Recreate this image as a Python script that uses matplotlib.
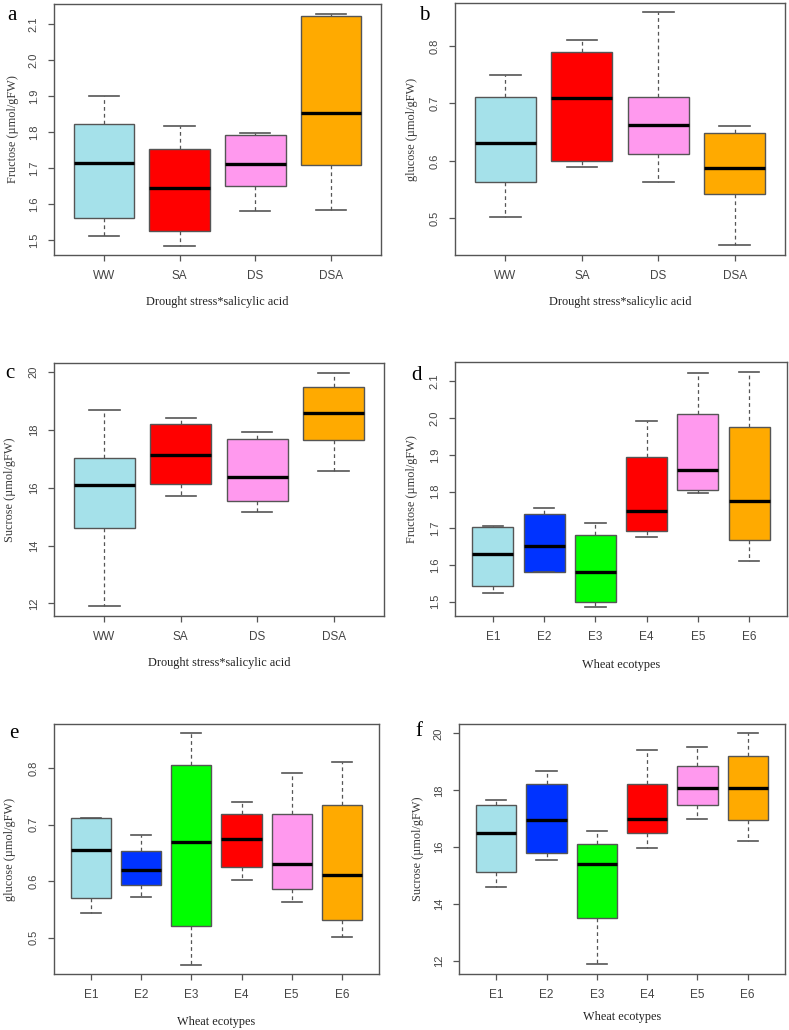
import matplotlib.pyplot as plt
import numpy as np

# treatment groups (panels a-c) and ecotypes (panels d-f)
treatments = ["WW", "SA", "DS", "DSA"]
ecotypes = ["E1", "E2", "E3", "E4", "E5", "E6"]

treat_colors = ["#A5E1EA", "#FF0000", "#FF99EE", "#FFAA00"]
eco_colors = ["#A5E1EA", "#0033FF", "#00FF00", "#FF0000", "#FF99EE", "#FFAA00"]

# box stats: [whislo, q1, med, q3, whishi]
fru_treat = [[1.512, 1.562, 1.713, 1.821, 1.900],
             [1.484, 1.525, 1.644, 1.752, 1.817],
             [1.580, 1.649, 1.711, 1.791, 1.796],
             [1.582, 1.708, 1.852, 2.124, 2.128]]
glu_treat = [[0.502, 0.563, 0.631, 0.712, 0.750],
             [0.590, 0.600, 0.709, 0.790, 0.810],
             [0.563, 0.6125, 0.663, 0.712, 0.860],
             [0.453, 0.543, 0.587, 0.649, 0.660]]
suc_treat = [[11.90, 14.60, 16.09, 17.01, 18.67],
             [15.70, 16.11, 17.12, 18.19, 18.42],
             [15.16, 15.54, 16.37, 17.70, 17.93],
             [16.56, 17.66, 18.60, 19.49, 19.98]]
fru_eco = [[1.525, 1.544, 1.631, 1.7045, 1.707],
           [1.580, 1.582, 1.652, 1.738, 1.754],
           [1.486, 1.499, 1.582, 1.683, 1.714],
           [1.677, 1.692, 1.748, 1.893, 1.992],
           [1.796, 1.805, 1.858, 2.011, 2.124],
           [1.612, 1.669, 1.775, 1.976, 2.126]]
glu_eco = [[0.543, 0.571, 0.656, 0.7126, 0.7126],
           [0.572, 0.593, 0.620, 0.653, 0.681],
           [0.452, 0.520, 0.669, 0.805, 0.862],
           [0.602, 0.626, 0.674, 0.719, 0.740],
           [0.563, 0.587, 0.631, 0.719, 0.791],
           [0.502, 0.532, 0.611, 0.735, 0.811]]
suc_eco = [[14.60, 15.13, 16.50, 17.49, 17.65],
           [15.53, 15.81, 16.95, 18.23, 18.68],
           [11.89, 13.51, 15.42, 16.12, 16.56],
           [15.96, 16.48, 17.00, 18.23, 19.41],
           [17.00, 17.48, 18.08, 18.84, 19.51],
           [16.20, 16.96, 18.08, 19.20, 20.00]]

sans = "Liberation Sans"
serif = "Liberation Serif"
gray = "#555555"

fig = plt.figure(figsize=(7.89, 10.30), dpi=100)

panels = [
    # letter, rect, data, labels, colors, ylabel, xlabel, ylim, yticks, label pos, letter pos
    ("a", [0.0684, 0.7524, 0.4144, 0.2437], fru_treat, treatments, treat_colors,
     "Fructose (\u00b5mol/gFW)", "Drought stress*salicylic acid",
     (1.458, 2.156), np.arange(1.5, 2.11, 0.1), "%.1f", (-0.125, -0.187), (7, 15)),
    ("b", [0.5767, 0.7524, 0.4183, 0.2447], glu_treat, treatments, treat_colors,
     "glucose (\u00b5mol/gFW)", "Drought stress*salicylic acid",
     (0.436, 0.875), np.arange(0.5, 0.81, 0.1), "%.1f", (-0.130, -0.187), (419, 16)),
    ("c", [0.0684, 0.4019, 0.4183, 0.2456], suc_treat, treatments, treat_colors,
     "Sucrose (\u00b5mol/gFW)", "Drought stress*salicylic acid",
     (11.56, 20.31), np.arange(12, 21, 2), "%d", (-0.133, -0.186), (5, 374)),
    ("d", [0.5767, 0.4019, 0.4208, 0.2466], fru_eco, ecotypes, eco_colors,
     "Fructose (\u00b5mol/gFW)", "Wheat ecotypes",
     (1.461, 2.153), np.arange(1.5, 2.11, 0.1), "%.1f", (-0.130, -0.194), (411, 375)),
    ("e", [0.0684, 0.0544, 0.4119, 0.2427], glu_eco, ecotypes, eco_colors,
     "glucose (\u00b5mol/gFW)", "Wheat ecotypes",
     (0.436, 0.878), np.arange(0.5, 0.81, 0.1), "%.1f", (-0.135, -0.192), (9, 733)),
    ("f", [0.5817, 0.0544, 0.4132, 0.2427], suc_eco, ecotypes, eco_colors,
     "Sucrose (\u00b5mol/gFW)", "Wheat ecotypes",
     (11.54, 20.33), np.arange(12, 21, 2), "%d", (-0.126, -0.172), (415, 732)),
]

for (letter, rect, data, labels, colors, ylab, xlab, ylim, yticks, fmt,
     lpos, letpos) in panels:
    ax = fig.add_axes(rect)
    stats = []
    for lab, d in zip(labels, data):
        stats.append({"label": lab, "whislo": d[0], "q1": d[1], "med": d[2],
                      "q3": d[3], "whishi": d[4], "fliers": []})
    n = len(labels)
    bp = ax.bxp(stats, positions=range(1, n + 1), widths=0.8, patch_artist=True,
                showfliers=False,
                boxprops=dict(edgecolor=gray, linewidth=1.0),
                medianprops=dict(color="black", linewidth=2.4, solid_capstyle="butt"),
                whiskerprops=dict(color=gray, linewidth=0.9, linestyle=(0, (3, 2.5))),
                capprops=dict(color=gray, linewidth=1.2),
                capwidths=0.4)
    for patch, c in zip(bp["boxes"], colors):
        patch.set_facecolor(c)

    ax.set_xlim(0.5 - 0.04 * n, n + 0.5 + 0.04 * n)
    ax.set_ylim(*ylim)
    ax.set_yticks(yticks)
    ax.set_yticklabels([fmt % v for v in yticks], rotation=90, va="center",
                       family=sans, fontsize=8, color="#444444")
    ax.set_xticks(range(1, n + 1))
    ax.set_xticklabels(labels, family=sans, fontsize=8.5, color="#444444")
    ax.tick_params(axis="both", length=4, width=0.9, color=gray, pad=7)
    for s in ax.spines.values():
        s.set_color(gray)
        s.set_linewidth(1.0)

    ax.set_ylabel(ylab, family=serif, fontsize=8.8, color="#3a3a3a")
    ax.yaxis.set_label_coords(lpos[0], 0.5)
    ax.yaxis.label.set_va("center")
    ax.set_xlabel(xlab, family=serif, fontsize=8.8, color="#222222")
    ax.xaxis.set_label_coords(0.5, lpos[1])
    ax.xaxis.label.set_va("center")

    fig.text(letpos[0] / 789, 1 - letpos[1] / 1030, letter, family=serif,
             fontsize=15, va="center", ha="left", color="black")

fig.savefig("out.png", dpi=100)
